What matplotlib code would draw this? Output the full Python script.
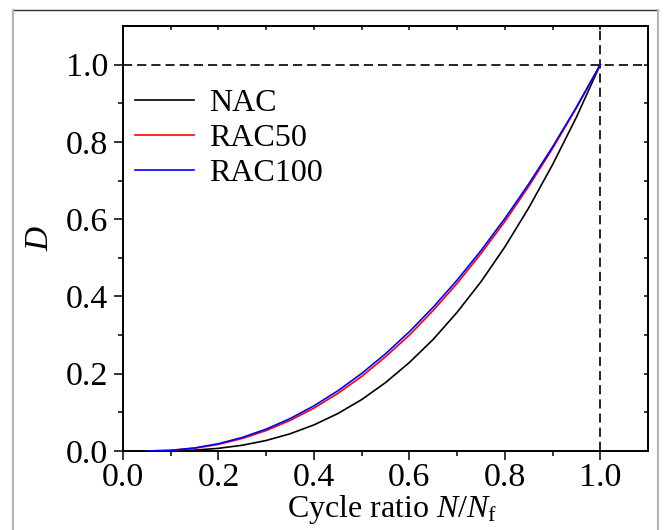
import matplotlib
matplotlib.use("Agg")
import matplotlib.pyplot as plt
from matplotlib.lines import Line2D

# ---- data ----
cycle_ratio = [0.05, 0.10, 0.15, 0.20, 0.25, 0.30, 0.35, 0.40, 0.45, 0.50,
               0.55, 0.60, 0.65, 0.70, 0.75, 0.80, 0.85, 0.90, 0.95, 1.00]
d_nac = [0.0, 0.0004, 0.0023, 0.0069, 0.0149, 0.0272, 0.0445, 0.0675, 0.0968, 0.133,
         0.177, 0.229, 0.289, 0.359, 0.438, 0.528, 0.629, 0.741, 0.864, 1.0]
d_rac50 = [0.0, 0.0015, 0.0071, 0.0172, 0.0324, 0.0530, 0.0791, 0.111, 0.149, 0.193,
           0.244, 0.300, 0.364, 0.434, 0.511, 0.594, 0.685, 0.783, 0.888, 1.0]
d_rac100 = [0.0, 0.0018, 0.0079, 0.0189, 0.0351, 0.0567, 0.0838, 0.1168, 0.1557, 0.2006,
            0.2516, 0.3087, 0.3723, 0.4422, 0.5186, 0.6016, 0.691, 0.787, 0.890, 1.0]
series_labels = ["NAC", "RAC50", "RAC100"]
series_colors = ["black", "#ff0000", "#0000ff"]
x_ticks = [0.0, 0.2, 0.4, 0.6, 0.8, 1.0]
y_ticks = [0.0, 0.2, 0.4, 0.6, 0.8, 1.0]

plt.rcParams['font.family'] = ['Liberation Serif', 'DejaVu Serif']
plt.rcParams['mathtext.fontset'] = 'custom'
plt.rcParams['mathtext.rm'] = 'Liberation Serif'
plt.rcParams['mathtext.it'] = 'Liberation Serif:italic'

fig = plt.figure(figsize=(6.65, 5.3), dpi=100)
ax = fig.add_axes([123/665, 1-451/530, (648-123)/665, (451-26)/530])

# figure border (partially visible frame)
fig.add_artist(Line2D([13/665, 658/665], [1-9.5/530, 1-9.5/530], transform=fig.transFigure,
                      color='#333333', lw=1.0))
fig.add_artist(Line2D([13/665, 13/665], [0, 1-9.5/530], transform=fig.transFigure,
                      color='#b5b5b5', lw=1.5))
fig.add_artist(Line2D([658/665, 658/665], [0, 1-9.5/530], transform=fig.transFigure,
                      color='#b5b5b5', lw=1.5))

for ys, lab, col in zip([d_nac, d_rac50, d_rac100], series_labels, series_colors):
    ax.plot(cycle_ratio, ys, color=col, lw=1.2, label=lab, zorder=3)

ax.axhline(1.0, color='black', lw=1.2, dashes=(5.5, 3.0), zorder=2)
ax.axvline(1.0, color='black', lw=1.2, dashes=(5.5, 3.0), zorder=2)

ax.set_xlim(0, 1.1)
ax.set_ylim(0, 1.1)
ax.set_xticks(x_ticks)
ax.set_yticks(y_ticks)
ax.set_xticklabels([f"{v:.1f}" for v in x_ticks])
ax.set_yticklabels([f"{v:.1f}" for v in y_ticks])
ax.set_xticks([0.1, 0.3, 0.5, 0.7, 0.9], minor=True)
ax.set_yticks([0.1, 0.3, 0.5, 0.7, 0.9], minor=True)
ax.tick_params(which='major', direction='out', length=6.5, width=1.1, labelsize=24.5, pad=4)
ax.tick_params(axis='x', which='major', pad=2)
ax.tick_params(which='minor', direction='out', length=3.6, width=1.1)
for s in ax.spines.values():
    s.set_linewidth(1.4)

# inward ticks on top and right
top = ax.secondary_xaxis('top')
top.set_xticks([0.1 * i for i in range(11)])
top.tick_params(direction='in', length=3, width=1.1, labeltop=False)
top.spines['top'].set_linewidth(1.4)
right = ax.secondary_yaxis('right')
right.set_yticks([0.1 * i for i in range(11)])
right.tick_params(direction='in', length=3, width=1.1, labelright=False)
right.spines['right'].set_linewidth(1.4)

ax.set_xlabel(r'Cycle ratio $\mathit{N}/\mathit{N}_{\mathrm{f}}$', fontsize=23)
ax.xaxis.set_label_coords(0.512, -0.1)
ax.set_ylabel(r'$\mathit{D}$', fontsize=24, labelpad=8)

leg = ax.legend(loc='upper left', bbox_to_anchor=(-0.019, 0.905), frameon=False, fontsize=23,
                handlelength=1.85, handletextpad=0.45, labelspacing=0.18, borderaxespad=0.3)

fig.savefig("out.png", dpi=100)
